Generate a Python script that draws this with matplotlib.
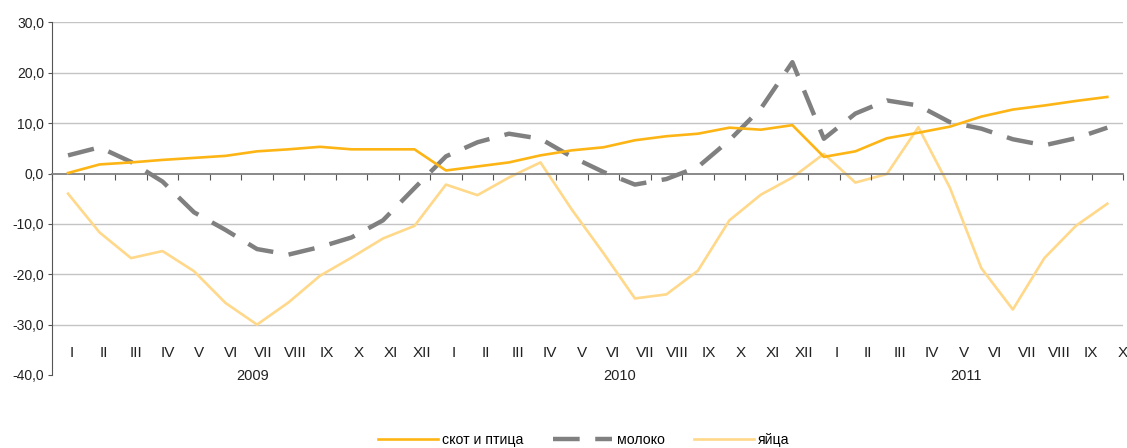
import numpy as np
import matplotlib
matplotlib.use("Agg")
import matplotlib.pyplot as plt

plt.rcParams['font.family'] = ['Liberation Sans', 'DejaVu Sans']

# данные (прирост, %)
months = ['I', 'II', 'III', 'IV', 'V', 'VI', 'VII', 'VIII', 'IX', 'X', 'XI', 'XII']
month_labels = months + months + months[:10]
years = ['2009', '2010', '2011']
year_pos = [5.85, 17.5, 28.5]

skot = [0.1, 1.8, 2.2, 2.7, 3.1, 3.5, 4.4, 4.8, 5.3, 4.8, 4.8, 4.8,
        0.6, 1.4, 2.2, 3.6, 4.6, 5.2, 6.6, 7.4, 7.9, 9.1, 8.7, 9.6,
        3.3, 4.4, 7.0, 8.1, 9.3, 11.3, 12.7, 13.5, 14.4, 15.2]
moloko = [3.6, 5.2, 2.3, -1.6, -7.7, -11.2, -15.0, -16.1, -14.6, -12.7, -9.3, -2.9,
          3.4, 6.2, 7.9, 6.9, 3.3, 0.3, -2.2, -1.1, 1.3, 6.6, 12.9, 22.1,
          6.9, 11.9, 14.5, 13.5, 10.2, 8.9, 6.8, 5.6, 7.0, 9.1]
yaica = [-4.0, -11.7, -16.8, -15.4, -19.4, -25.7, -30.0, -25.6, -20.3, -16.7, -12.9, -10.4,
         -2.2, -4.3, -0.8, 2.2, -7.2, -15.8, -24.8, -24.0, -19.3, -9.3, -4.2, -0.8,
         3.9, -1.8, -0.1, 9.2, -2.8, -18.8, -27.0, -16.8, -10.4, -6.0]

x = np.arange(len(month_labels))

fig = plt.figure(figsize=(11.27, 4.48), dpi=100)
ax = fig.add_axes([0.0464, 0.163, 0.9501, 0.787])

ax.set_ylim(-40, 30)
ax.set_xlim(-0.5, len(month_labels) - 0.5)

# сетка
for v in [-30, -20, -10, 10, 20, 30]:
    ax.axhline(v, color='#c4c4c4', lw=1.0, zorder=0)

l1, = ax.plot(x, skot, color='#fdb515', lw=1.9, label='скот и птица', zorder=3)
l2, = ax.plot(x, moloko, color='#808080', lw=3.2, linestyle=(0, (6, 3.5)),
              dash_capstyle='butt', label='молоко', zorder=2)
l3, = ax.plot(x, yaica, color='#ffd88a', lw=1.9, label='яйца', zorder=1)

# оси
for s in ['top', 'right']:
    ax.spines[s].set_visible(False)
ax.spines['left'].set_color('#555555')
ax.spines['bottom'].set_position(('data', 0))
ax.spines['bottom'].set_color('#808080')
ax.spines['bottom'].set_linewidth(1.3)

ax.set_yticks(np.arange(-40, 31, 10))
ax.set_yticklabels([f'{v:.1f}'.replace('.', ',') for v in np.arange(-40, 31, 10)],
                   fontsize=10, color='#222222')
ax.tick_params(axis='y', length=3, color='#555555', pad=3)

ax.set_xticks(np.arange(-0.5, len(month_labels), 1))
ax.set_xticklabels([])
ax.tick_params(axis='x', length=4, color='#555555', direction='out')

# подписи месяцев идут чуть шире шага точек, как в исходнике
for xi, lab in zip(x, month_labels):
    ax.text(0.13 + xi * 1.011, -35.6, lab, ha='center', va='center', fontsize=11,
            color='#222222', clip_on=False)
for xp, yr in zip(year_pos, years):
    ax.text(xp, -40.3, yr, ha='center', va='center', fontsize=10.5, color='#222222',
            clip_on=False)

fig.legend(handles=[l1, l2, l3], loc='center', bbox_to_anchor=(0.518, 0.018),
           ncol=3, frameon=False, fontsize=10.2, handlelength=4.2, columnspacing=2.1,
           handletextpad=0.3)

fig.savefig('out.png', dpi=100)
